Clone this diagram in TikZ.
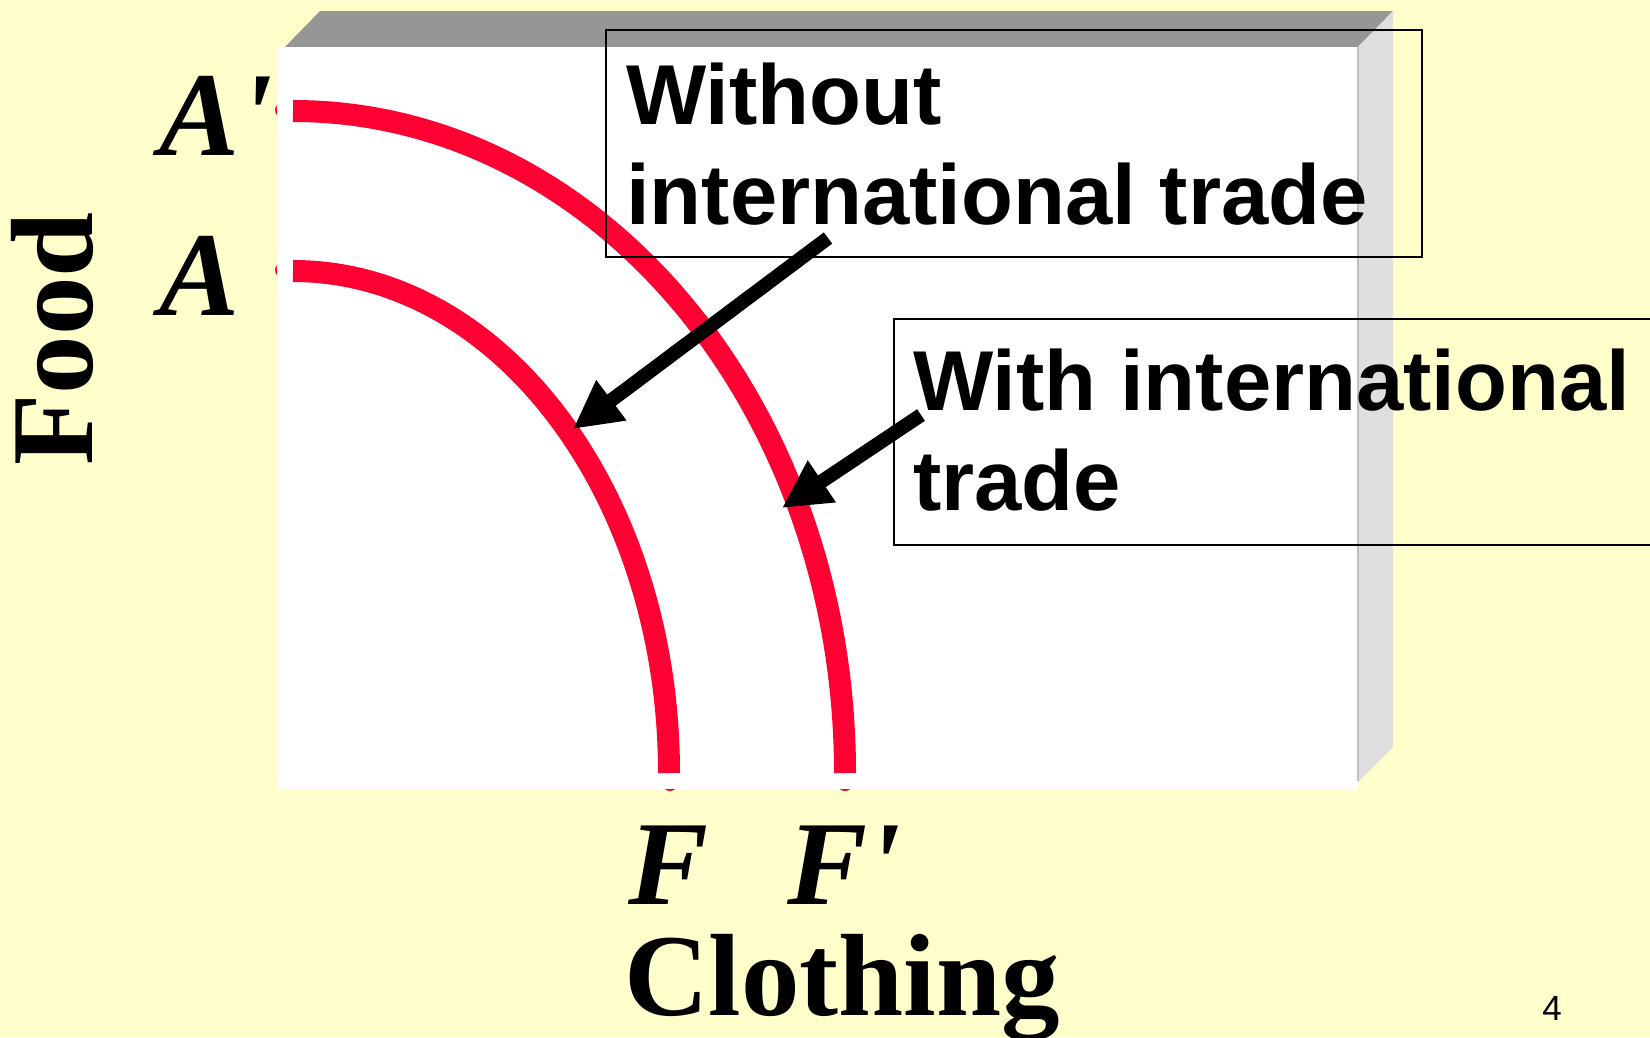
\documentclass[tikz,border=0pt]{standalone}
\usepackage{fontspec}
\usetikzlibrary{arrows.meta}
\newfontfamily\sansb{Liberation Sans}
\newfontfamily\serfont{Liberation Serif}
\definecolor{bg}{HTML}{FFFFCC}
\definecolor{curvered}{HTML}{FF0033}
\definecolor{topgray}{HTML}{969696}
\definecolor{sidegray}{HTML}{DFDFDF}
\definecolor{edgegray}{HTML}{C0C0C0}
\begin{document}
\begin{tikzpicture}[x=1pt,y=1pt,
  ppf/.style={draw=curvered, line width=22pt},
  enddot/.style={fill=curvered},
  lblbox/.style={draw=black, line width=2pt, inner sep=0pt},
  lbltext/.style={font=\sansb\bfseries\fontsize{85}{100}\selectfont, align=left, inner sep=0pt},
  ptr/.style={line width=14pt, -{Triangle[length=48pt,width=47pt]}},
  axislbl/.style={font=\serfont\bfseries\fontsize{117}{117}\selectfont, inner sep=0pt},
  ptlbl/.style={font=\serfont\bfseries\itshape\fontsize{120}{120}\selectfont, inner sep=0pt}]

\useasboundingbox (0,0) rectangle (1650,-1037);
\fill[bg] (0,0) rectangle (1650,-1037);
\clip (0,0) rectangle (1650,-1037);

% small end dots (mostly hidden by the panel)
\fill[enddot] (282,-110) circle (7);
\fill[enddot] (282,-270) circle (7);
\fill[enddot] (670,-783) circle (8);
\fill[enddot] (845,-783) circle (8);

% 3D panel
\fill[topgray] (285,-47) -- (320,-11) -- (1393,-11) -- (1358,-47) -- cycle;
\fill[sidegray] (1358,-47) -- (1393,-11) -- (1393,-747) -- (1358,-782) -- cycle;
\fill[white] (277,-47) rectangle (1357,-789);
\draw[edgegray, line width=2pt] (1358,-47) -- (1358,-781);

% production possibility frontiers
\draw[ppf] (293,-111) arc[start angle=90, end angle=0, x radius=552, y radius=662];
\draw[ppf] (293,-271) arc[start angle=90, end angle=0, x radius=376, y radius=502];

% label boxes
\node[lblbox, minimum width=816pt, minimum height=227pt, anchor=north west] (box1) at (605,-29) {};
\node[lblbox, minimum width=800pt, minimum height=226pt, anchor=north west] (box2) at (893,-318) {};
\node[lbltext, anchor=north west] (t1) at (626,-63) {Without\\international trade};
\node[lbltext, anchor=north west] (t2) at (913,-349) {With international\\trade};

% arrows
\coordinate (a1s) at (828,-238);
\coordinate (a1e) at (573,-429);
\coordinate (a2s) at (921,-415);
\coordinate (a2e) at (782,-508);
\draw[ptr] (a1s) -- (a1e);
\draw[ptr] (a2s) -- (a2e);

% axis labels
\node[axislbl, anchor=base west, rotate=90] (food) at (92,-466) {Food};
\node[axislbl, anchor=base west] (cloth) at (624,-1015) {Clothing};

% point labels
\node[ptlbl, anchor=base west] (Ap) at (159,-155) {A'};
\node[ptlbl, anchor=base west] (A) at (159,-315) {A};
\node[ptlbl, anchor=base west] (F) at (628,-904) {F};
\node[ptlbl, anchor=base west] (Fp) at (787,-904) {F'};

% page number
\node[font=\sansb\fontsize{35}{35}\selectfont, inner sep=0pt, anchor=base] (pg) at (1552,-1020) {4};
\end{tikzpicture}
\end{document}
